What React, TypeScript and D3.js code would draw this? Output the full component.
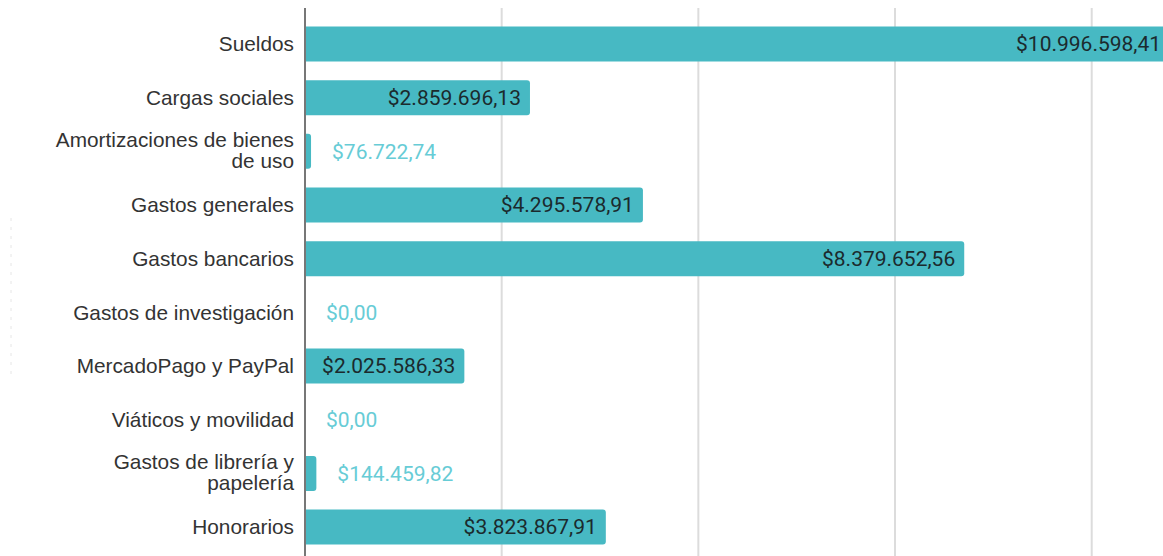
import React from "react";
import * as d3 from "d3";

const categories: string[][] = [
  ["Sueldos"],
  ["Cargas sociales"],
  ["Amortizaciones de bienes", "de uso"],
  ["Gastos generales"],
  ["Gastos bancarios"],
  ["Gastos de investigación"],
  ["MercadoPago y PayPal"],
  ["Viáticos y movilidad"],
  ["Gastos de librería y", "papelería"],
  ["Honorarios"],
];
const values: number[] = [
  10996598.41, 2859696.13, 76722.74, 4295578.91, 8379652.56, 0, 2025586.33, 0,
  144459.82, 3823867.91,
];
const gridTicks: number[] = [2500000, 5000000, 7500000, 10000000];

const W = 1163;
const H = 556;
const fmt = (v: number) => {
  const [i, d] = v.toFixed(2).split(".");
  return "$" + i.replace(/\B(?=(\d{3})+(?!\d))/g, ".") + "," + d;
};

export default function App() {
  const x = d3.scaleLinear().domain([0, 10000000]).range([305, 1091.7]);
  const keys = categories.map((c) => c.join(" "));
  const y = d3
    .scaleBand<string>()
    .domain(keys)
    .range([17.17, 553.9])
    .paddingInner(0.348)
    .paddingOuter(0.174);
  const bw = y.bandwidth();
  const barColor = "#47b9c3";
  const lightText = "#67ccd6";
  const darkText = "#1b2a2d";
  const r = 3;
  const barPath = (x0: number, x1: number, y0: number, h: number) => {
    const w = x1 - x0;
    if (w <= 0) return "";
    const rr = Math.min(r, w / 2);
    return `M${x0},${y0}H${x1 - rr}Q${x1},${y0} ${x1},${y0 + rr}V${y0 + h - rr}Q${x1},${y0 + h} ${x1 - rr},${y0 + h}H${x0}Z`;
  };
  return (
    <div style={{ position: "fixed", left: 0, top: 0 }}>
      <svg width={W} height={H} style={{ display: "block", background: "#fff" }}>
        {gridTicks.map((t) => (
          <line key={t} x1={x(t)} x2={x(t)} y1={8} y2={H} stroke="#dcdcdc" strokeWidth={2} />
        ))}
        <line x1={11} x2={11} y1={218} y2={380} stroke="#e6e6e6" strokeWidth={1} strokeDasharray="3,6" />
        {values.map((v, i) => {
          const k = keys[i];
          const y0 = y(k)!;
          const xe = x(v);
          const cy = y0 + bw / 2;
          const big = xe - x(0) > 100;
          return (
            <g key={k}>
              <path d={barPath(x(0), xe, y0, bw)} fill={barColor} />
              <text
                x={big ? xe - 9 : xe + 21}
                y={cy}
                dy="0.35em"
                textAnchor={big ? "end" : "start"}
                fontFamily="Roboto"
                fontSize={21}
                fill={big ? darkText : lightText}
              >
                {fmt(v)}
              </text>
            </g>
          );
        })}
        <line x1={x(0)} x2={x(0)} y1={8} y2={H} stroke="#777" strokeWidth={2} />
        {categories.map((lines, i) => {
          const cy = y(keys[i])! + bw / 2;
          const lh = 21;
          const start = cy - ((lines.length - 1) * lh) / 2 - (lines.length > 1 ? 1.5 : 0);
          return (
            <text
              key={keys[i]}
              x={294}
              textAnchor="end"
              fontFamily="Liberation Sans, Arial"
              fontSize={20.8}
              fill="#333"
            >
              {lines.map((l, j) => (
                <tspan key={j} x={294} y={start + j * lh} dy="0.35em">
                  {l}
                </tspan>
              ))}
            </text>
          );
        })}
      </svg>
    </div>
  );
}
